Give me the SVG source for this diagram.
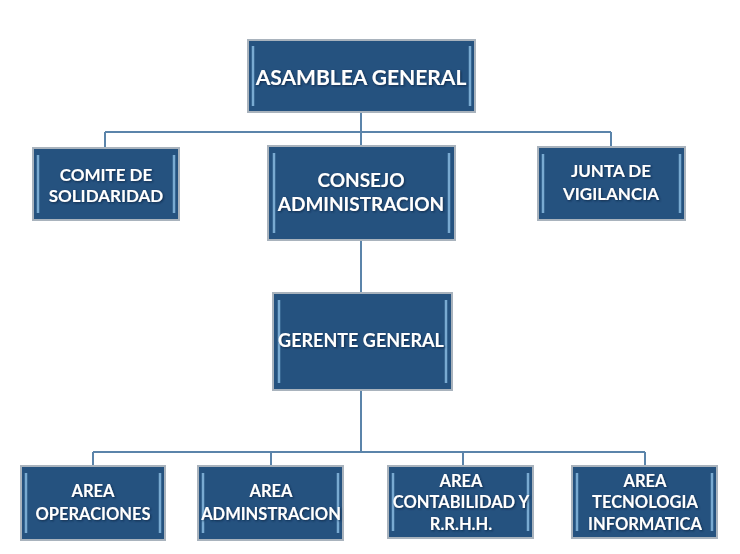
<svg xmlns="http://www.w3.org/2000/svg" width="740" height="554" viewBox="0 0 740 554">
<defs>
<filter id="sh" x="-10%" y="-20%" width="120%" height="140%">
<feDropShadow dx="1" dy="1" stdDeviation="0.8" flood-color="#0b2440" flood-opacity="0.8"/>
</filter>
</defs>
<style>
.box{fill:#25527f;stroke:#a9b3bd;stroke-width:2}
.bev{stroke:#8fc0e6;stroke-width:2.5;fill:none;opacity:0.8}
.t{font-family:Lato,"Open Sans","Liberation Sans",sans-serif;font-weight:bold;fill:#ffffff;text-anchor:middle;filter:url(#sh)}
.s16{font-size:16.5px}
.s17{font-size:17px}
.s18{font-size:18px}
.s19{font-size:19px}
.s21{font-size:21px}
.ln{stroke:#5b84aa;stroke-width:2;fill:none}
</style>
<rect width="740" height="554" fill="#ffffff"/>
<g id="connectors">
<path class="ln" d="M361 112V132M105 132H611M105 132V148M361 132V146M611 132V147"/>
<path class="ln" d="M361 240V293"/>
<path class="ln" d="M361 390V452M93 452H645M93 452V466M271 452V466M463 452V466M645 452V466"/>
</g>
<g id="asamblea">
<rect class="box" x="248" y="40" width="227" height="72"/>
<path class="bev" d="M253 46V106M470 46V106"/>
<text class="t s21" x="361" y="85">ASAMBLEA GENERAL</text>
</g>
<g id="comite">
<rect class="box" x="33" y="148" width="146" height="72"/>
<path class="bev" d="M38 155V213M174 155V213"/>
<text class="t s17" x="106" y="181">COMITE DE</text>
<text class="t s17" x="106" y="202">SOLIDARIDAD</text>
</g>
<g id="consejo">
<rect class="box" x="268" y="146" width="187" height="94"/>
<path class="bev" d="M274 153V233M449 153V233"/>
<text class="t s19" x="361" y="187">CONSEJO</text>
<text class="t s19" x="361" y="211">ADMINISTRACION</text>
</g>
<g id="junta">
<rect class="box" x="538" y="147" width="147" height="73"/>
<path class="bev" d="M543 154V213M680 154V213"/>
<text class="t s17" x="611" y="177">JUNTA DE</text>
<text class="t s17" x="611" y="200">VIGILANCIA</text>
</g>
<g id="gerente">
<rect class="box" x="273" y="293" width="179" height="97"/>
<path class="bev" d="M279 300V383M446 300V383"/>
<text class="t s18" x="361" y="347">GERENTE GENERAL</text>
</g>
<g id="operaciones">
<rect class="box" x="21" y="466" width="144" height="74"/>
<path class="bev" d="M26 473V533M160 473V533"/>
<text class="t s16" x="93" y="497">AREA</text>
<text class="t s16" x="93" y="520">OPERACIONES</text>
</g>
<g id="administracion">
<rect class="box" x="198" y="466" width="145" height="74"/>
<path class="bev" d="M203 473V533M338 473V533"/>
<text class="t s16" x="271" y="497">AREA</text>
<text class="t s16" x="271" y="520">ADMINSTRACION</text>
</g>
<g id="contabilidad">
<rect class="box" x="388" y="466" width="145" height="72"/>
<path class="bev" d="M393 473V531M528 473V531"/>
<text class="t s16" x="461" y="487">AREA</text>
<text class="t s16" x="461" y="508">CONTABILIDAD Y</text>
<text class="t s16" x="461" y="530">R.R.H.H.</text>
</g>
<g id="tecnologia">
<rect class="box" x="572" y="466" width="145" height="72"/>
<path class="bev" d="M577 473V531M712 473V531"/>
<text class="t s16" x="645" y="487">AREA</text>
<text class="t s16" x="645" y="508">TECNOLOGIA</text>
<text class="t s16" x="645" y="530">INFORMATICA</text>
</g>
</svg>
